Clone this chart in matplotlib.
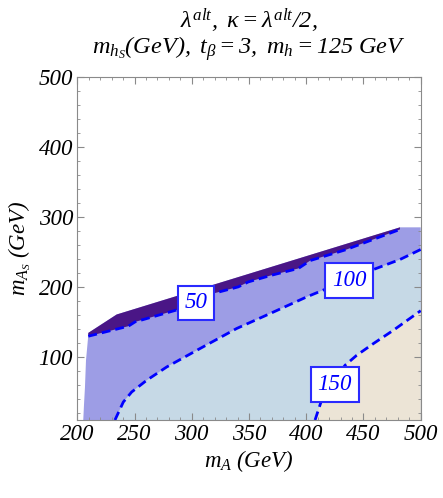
import numpy as np
import matplotlib
matplotlib.use("Agg")
import matplotlib.pyplot as plt
from matplotlib.ticker import MultipleLocator

# boundary of the region where the model is defined (m_A, m_AS in GeV)
left_x = [205.2, 205.9, 206.7, 207.6, 209.6]
left_y = [10, 33.4, 57, 95.3, 131]
top_x = [209.6, 234.4, 481.9]
top_y = [134.3, 160.6, 285.0]
y_cut = 285.0

# m_hS contour lines
c50_x = [209.6, 244.6, 250.4, 288.2, 318.8, 340.6, 349.4, 369.8, 393.1, 403.5, 435.3, 441.1, 481.9]
c50_y = [129.6, 143.9, 150.0, 167.7, 190.6, 200.0, 207.1, 216.7, 226.3, 237.6, 253.4, 257.1, 282.0]
c100_x = [232.9, 240.2, 247.5, 260.6, 278.1, 307.2, 339.2, 371.2, 400.4, 457.2, 481.9, 500]
c100_y = [10, 35.7, 50, 66.7, 85.7, 112.0, 140.6, 164.0, 185.7, 223.9, 239.1, 253.4]
c150_x = [407.7, 412.6, 422.0, 433.9, 444.1, 458.6, 476.1, 500]
c150_y = [10, 34.3, 62.0, 88.1, 102.4, 119.0, 138.1, 166.0]

labels = ["50", "100", "150"]
label_x = [303.8, 437.5, 424.9]
label_y = [177.1, 208.6, 60.7]

plt.rcParams["font.family"] = "Liberation Serif"
plt.rcParams["font.style"] = "italic"
plt.rcParams["mathtext.fontset"] = "custom"
plt.rcParams["mathtext.rm"] = "Liberation Serif"
plt.rcParams["mathtext.it"] = "Liberation Serif:italic"
plt.rcParams["mathtext.bf"] = "Liberation Serif:bold"

fig = plt.figure(figsize=(4.43, 4.98), dpi=100)
ax = fig.add_axes([0.1745, 0.1566, 0.7752, 0.6894])

xmin, xmax, ymin = 200, 500, 10

# regions
dom_x = left_x + top_x + [xmax, xmax]
dom_y = left_y + top_y + [y_cut, ymin]
ax.fill(dom_x, dom_y, color="#9d9de5", lw=0, zorder=1)
ax.fill(top_x + c50_x[::-1], top_y + c50_y[::-1], color="#4a1686", lw=0, zorder=1.1)
ax.fill(c100_x + [xmax], c100_y + [ymin], color="#c6d9e6", lw=0, zorder=1.2)
ax.fill(c150_x + [xmax], c150_y + [ymin], color="#ece4d6", lw=0, zorder=1.3)

for cx, cy in [(c50_x, c50_y), (c100_x, c100_y), (c150_x, c150_y)]:
    ax.plot(cx, cy, color="#0000ff", lw=2, ls=(0, (3.2, 1.8)), zorder=3,
            solid_capstyle="butt", dash_capstyle="butt")

for t, lx, ly in zip(labels, label_x, label_y):
    ax.text(lx, ly, t, color="#0000ff", fontsize=16.5, style="italic",
            ha="center", va="center", zorder=5,
            bbox=dict(boxstyle="square,pad=0.3", fc="white", ec="#2a2aff", lw=1.5))

ax.set_xlim(xmin, xmax)
ax.set_ylim(ymin, 500)
ax.xaxis.set_major_locator(MultipleLocator(50))
ax.xaxis.set_minor_locator(MultipleLocator(10))
ax.yaxis.set_major_locator(MultipleLocator(100))
ax.yaxis.set_minor_locator(MultipleLocator(20))
ax.set_yticks([100, 200, 300, 400, 500])
ax.tick_params(which="both", direction="in", top=True, right=True, color="#8a8a8a",
               labelsize=16.5, pad=3)
ax.tick_params(which="major", length=5, width=0.8)
ax.tick_params(which="minor", length=2.5, width=0.6)
for s in ax.spines.values():
    s.set_color("#8a8a8a")
    s.set_linewidth(0.8)

ax.set_xlabel(r"$m_A\ (GeV)$", fontsize=16.5, labelpad=2)
ax.set_ylabel(r"$m_{A_S}\ (GeV)$", fontsize=16.5, labelpad=4)

fig.text(0.562, 0.943, r"$\lambda^{alt},\ \kappa = \lambda^{alt}/\mathit{2},$",
         ha="center", va="baseline", fontsize=17.5)
fig.text(0.562, 0.893, r"$m_{h_S}(GeV),\ t_\beta = \mathit{3},\ m_h = \mathit{125}\ GeV$",
         ha="center", va="baseline", fontsize=17.5)

fig.savefig("out.png", dpi=100)
